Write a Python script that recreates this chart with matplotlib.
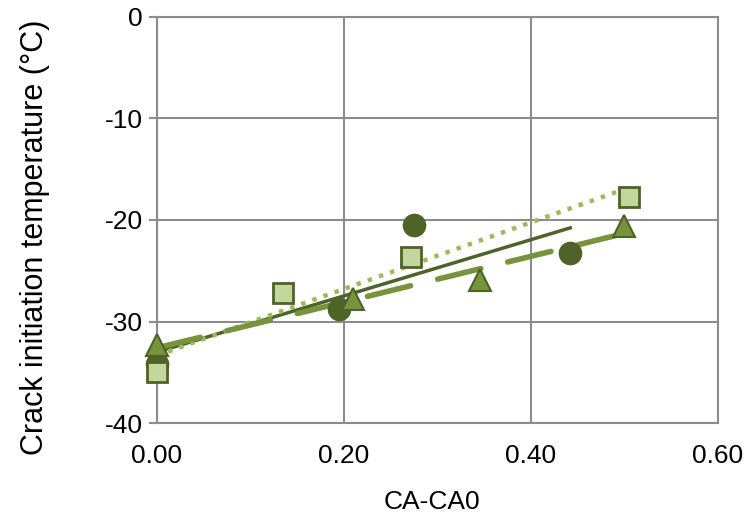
import numpy as np
import matplotlib
matplotlib.use('Agg')
import matplotlib.pyplot as plt

plt.rcParams['font.family'] = ['Liberation Sans', 'DejaVu Sans']
plt.rcParams['axes.unicode_minus'] = False

# data
circle_x = [0.0, 0.195, 0.275, 0.442]
circle_y = [-34.2, -28.8, -20.5, -23.3]
square_x = [0.0, 0.135, 0.272, 0.505]
square_y = [-35.0, -27.2, -23.6, -17.7]
tri_x = [0.0, 0.21, 0.345, 0.50]
tri_y = [-32.3, -27.8, -25.9, -20.6]

x_ticks = [0.0, 0.2, 0.4, 0.6]
x_labels = ['0.00', '0.20', '0.40', '0.60']
y_ticks = [-40, -30, -20, -10, 0]

dark = '#4F6228'
mid = '#77933C'
light = '#9BBB59'
pale = '#C3D69B'
grid = '#8C8C8C'

fig = plt.figure(figsize=(7.53, 5.23), dpi=100)
ax = fig.add_axes([0.2085, 0.1912, 0.745, 0.7763])


def trend(xs, ys):
    k, b = np.polyfit(xs, ys, 1)
    xx = np.array([min(xs), max(xs)])
    return xx, k * xx + b


# trendlines (Excel style linear fits)
xx, yy = trend(circle_x, circle_y)
ax.plot(xx, yy, '-', color=dark, lw=2.5, zorder=3)
xx, yy = trend(square_x, square_y)
ax.plot(xx, yy, ':', color=light, lw=3.2, zorder=3)
xx, yy = trend(tri_x, tri_y)
ax.plot(xx, yy, color=mid, lw=4, dashes=(8, 5), dash_capstyle='round', zorder=3)

ax.plot(circle_x, circle_y, 'o', ms=16, color=dark, mec=dark, zorder=4, clip_on=False)
ax.plot(square_x, square_y, 's', ms=14, mfc=pale, mec=dark, mew=2, zorder=5, clip_on=False)
ax.plot(tri_x, tri_y, '^', ms=16, mfc=mid, mec=dark, mew=1.5, zorder=6, clip_on=False)

ax.set_xlim(0, 0.6)
ax.set_ylim(-40, 0)
ax.set_xticks(x_ticks)
ax.set_xticklabels(x_labels)
ax.set_yticks(y_ticks)
ax.grid(True, color=grid, lw=1.5, zorder=0)
ax.set_axisbelow(True)
for s in ax.spines.values():
    s.set_color(grid)
    s.set_linewidth(1.5)
ax.tick_params(axis='x', length=0, pad=15, labelsize=19)
ax.tick_params(axis='y', length=6, width=1.5, color=grid, pad=4, labelsize=19)

ax.set_xlabel('CA-CA0', fontsize=19)
ax.xaxis.set_label_coords(0.49, -0.165)
fig.text(35 / 753, 1 - 237 / 523, 'Crack initiation temperature (\u00b0C)',
         rotation=90, ha='center', va='center', fontsize=22)

fig.savefig('out.png', dpi=100)
